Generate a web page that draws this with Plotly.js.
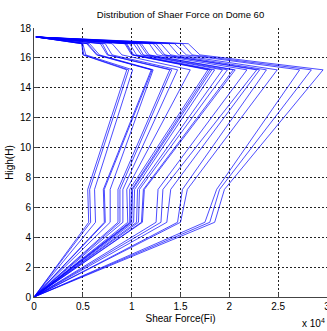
<!DOCTYPE html>
<html>
<head>
<meta charset="utf-8">
<script src="https://cdn.plot.ly/plotly-3.0.1.min.js"></script>
<style>html,body{margin:0;padding:0;background:#fff;}#chart{width:327px;height:331px;}</style>
</head>
<body>
<div id="chart"></div>
<script>
// Heights of the points along every curve (H)
const heights = [0, 5.0, 7.2, 15.2, 16.2, 16.95, 17.4];
// Shear force (x 10^4) of each curve at each height level
const forceAt0    = [0,0,0,0,0,0,0,0,0,0,0,0,0,0,0,0,0,0,0,0,0,0,0,0,0,0];
const forceAt5    = [0.56,0.58,0.63,0.72,0.73,0.78,0.86,0.88,0.91,0.96,0.98,0.99,1.00,1.02,1.05,1.07,1.11,1.10,1.25,1.30,1.36,1.47,1.50,1.75,1.80,1.85];
const forceAt72   = [0.55,0.57,0.62,0.71,0.72,0.78,0.86,0.88,0.91,0.95,0.98,1.00,1.01,1.03,1.06,1.08,1.13,1.12,1.27,1.32,1.40,1.52,1.57,1.87,1.90,1.95];
const forceAt152  = [0.95,0.97,1.01,1.20,1.21,1.22,1.39,1.41,1.47,1.60,1.78,1.80,1.82,1.85,1.93,1.98,2.06,2.04,2.18,2.28,2.31,2.38,2.49,2.72,2.84,2.96];
const forceAt162  = [0.50,0.51,0.53,0.64,0.65,0.67,0.75,0.76,0.80,0.90,1.00,1.01,1.02,1.05,1.10,1.12,1.18,1.16,1.26,1.32,1.34,1.40,1.48,1.56,1.62,1.70];
const forceAt1695 = [0.49,0.49,0.50,0.54,0.55,0.57,0.68,0.70,0.73,0.80,0.93,0.94,0.95,0.98,1.02,1.05,1.10,1.08,1.18,1.22,1.25,1.30,1.38,1.44,1.52,1.58];
const forceAtTop  = [0.02,0.02,0.02,0.02,0.02,0.02,0.02,0.02,0.02,0.02,0.02,0.02,0.02,0.02,0.02,0.02,0.02,0.02,0.02,0.02,0.02,0.02,0.02,0.02,0.02,0.02];
const xTickVals = [0, 0.5, 1, 1.5, 2, 2.5, 3];
const xTickText = ['0', '0.5', '1', '1.5', '2', '2.5', '3'];
const yTickVals = [0, 2, 4, 6, 8, 10, 12, 14, 16, 18];

const levels = [forceAt0, forceAt5, forceAt72, forceAt152, forceAt162, forceAt1695, forceAtTop];
const traces = forceAt5.map((_, i) => ({
  type: 'scatter', mode: 'lines',
  x: levels.map(l => l[i]),
  y: heights,
  line: {color: 'rgb(0,0,255)', width: 0.7},
  hoverinfo: 'skip', showlegend: false
}));

const FONT = '"Liberation Sans", Arial, sans-serif';
const axisCommon = {
  showgrid: true, gridcolor: '#222', gridwidth: 1, griddash: '2px,2px',
  zeroline: false, showline: true, linecolor: '#444', linewidth: 1,
  ticks: 'inside', ticklen: 4, tickcolor: '#444',
  tickfont: {family: FONT, size: 10, color: '#000'}
};
const layout = {
  width: 327, height: 331,
  margin: {l: 34, r: 0, t: 28, b: 34},
  paper_bgcolor: '#fff', plot_bgcolor: '#fff',
  title: {text: 'Distribution of Shaer Force on Dome 60', font: {family: FONT, size: 9.5, color: '#000'},
          x: 0.5, xref: 'paper', y: 1 - 15/331, yref: 'container', yanchor: 'middle'},
  xaxis: Object.assign({}, axisCommon, {range: [0, 3], tickvals: xTickVals, ticktext: xTickText,
          ticklabeloverflow: 'allow',
          title: {text: 'Shear Force(Fi)', font: {family: FONT, size: 10, color: '#000'}, standoff: 3}}),
  yaxis: Object.assign({}, axisCommon, {range: [0, 18], tickvals: yTickVals,
          title: {text: 'High(H)', font: {family: FONT, size: 10, color: '#000'}, standoff: 4}}),
  annotations: [{text: 'x 10<sup>4</sup>', xref: 'paper', yref: 'paper', x: 1.0, y: -0.095,
                 xanchor: 'right', yanchor: 'middle', showarrow: false,
                 font: {family: FONT, size: 10, color: '#000'}}]
};
Plotly.newPlot('chart', traces, layout, {displayModeBar: false, staticPlot: true});
</script>
</body>
</html>
